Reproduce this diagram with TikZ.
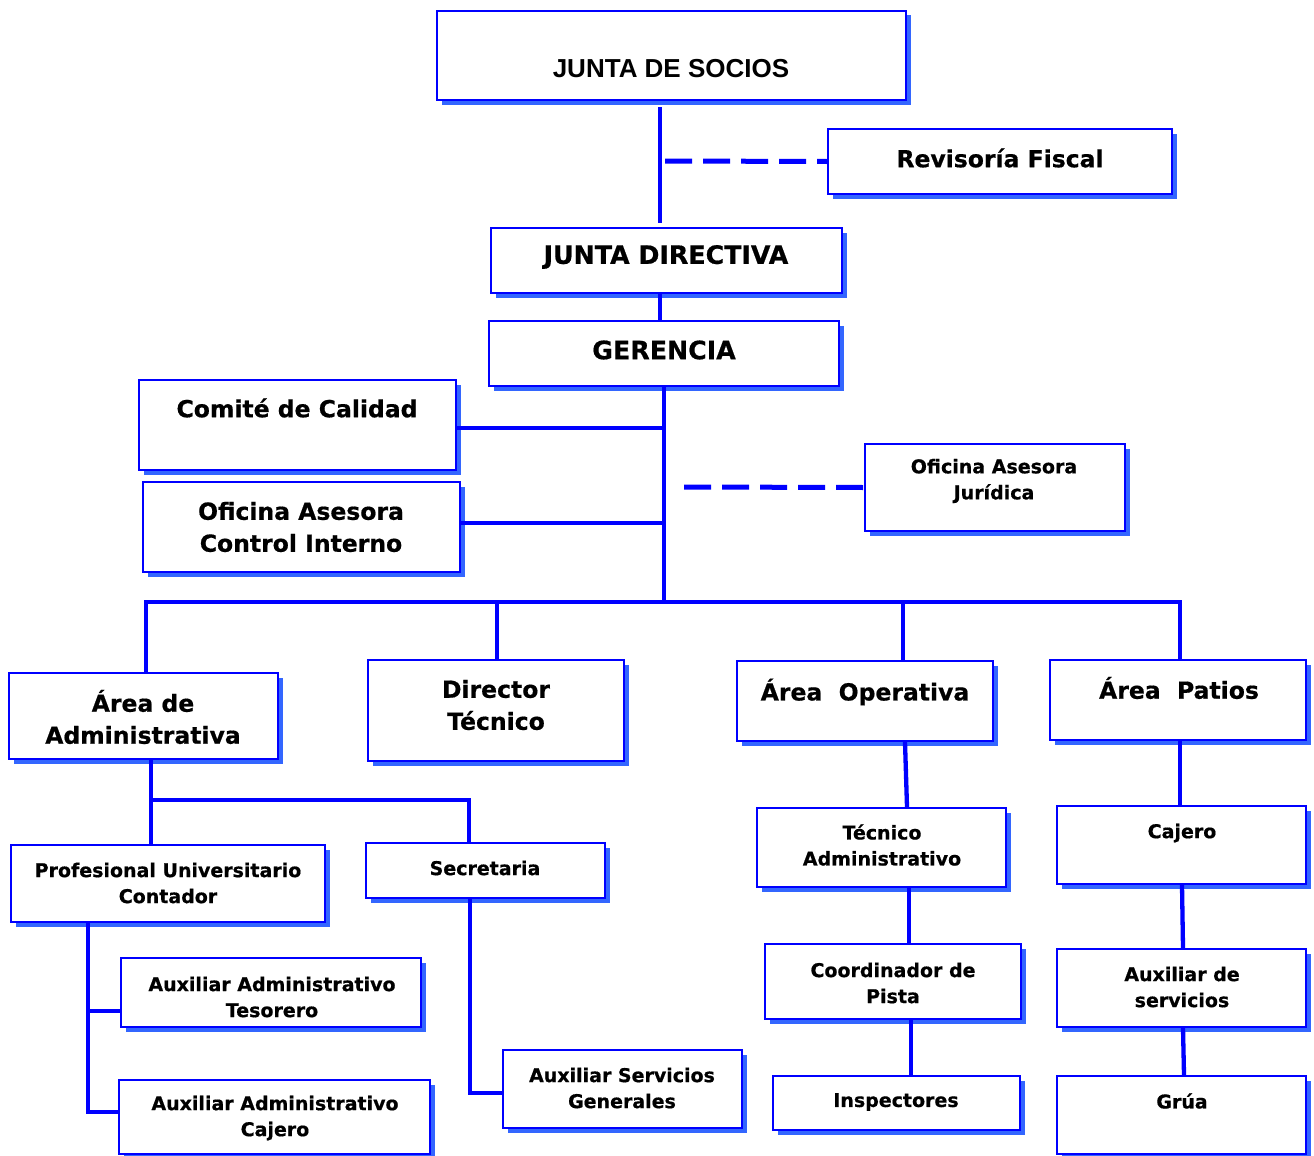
\documentclass[tikz,border=0pt]{standalone}
\usepackage{fontspec}
\setmainfont{DejaVu Sans}[BoldFeatures={FakeBold=0.6}]
\newfontfamily\arialfam{Liberation Sans}
\usetikzlibrary{shadows}
\definecolor{lineblue}{RGB}{0,0,255}
\definecolor{shadowblue}{RGB}{51,102,255}
\tikzset{
  orgbox/.style={draw=lineblue, line width=2pt, fill=white, rectangle, inner sep=0pt,
    general shadow={shadow xshift=4.5pt, shadow yshift=-4.5pt, fill=shadowblue}},
  bigtxt/.style={font=\bfseries\fontsize{23.5}{32}\selectfont, align=center, inner sep=0pt},
  captxt/.style={font=\bfseries\fontsize{25.3}{32}\selectfont, align=center, inner sep=0pt},
  smalltxt/.style={font=\bfseries\fontsize{19}{26}\selectfont, align=center, inner sep=0pt},
  conn/.style={draw=lineblue, line width=4.3pt},
  dashconn/.style={draw=lineblue, line width=5pt, dash pattern=on 27pt off 11pt}
}
\newcommand\obox[5]{% name, cx, cy, w, h
  \node[orgbox, minimum width=#4pt, minimum height=#5pt] (#1) at (#2,#3) {};}
\begin{document}
\begin{tikzpicture}[x=1pt,y=-1pt]
\fill[white] (0,0) rectangle (1314,1156);
\useasboundingbox (0,0) rectangle (1314,1156);

% boxes
\obox{js}{671.5}{55.5}{469}{89}
\obox{rf}{1000}{161.5}{344}{65}
\obox{jd}{666.5}{260.5}{351}{65}
\obox{ger}{664}{353.5}{350}{65}
\obox{cc}{297.5}{425}{317}{90}
\obox{oci}{301.5}{527}{317}{90}
\obox{oaj}{995}{487.5}{260}{87}
\obox{aa}{143.5}{716}{269}{86}
\obox{dt}{496}{710.5}{256}{101}
\obox{ao}{865}{701}{256}{80}
\obox{ap}{1178}{700}{256}{80}
\obox{pu}{168}{883.5}{314}{77}
\obox{sec}{485.5}{870.5}{239}{55}
\obox{ta}{881.5}{847.5}{249}{79}
\obox{caj}{1181.5}{845}{249}{78}
\obox{aat}{271}{992.5}{300}{69}
\obox{aac}{274.5}{1117}{311}{74}
\obox{asg}{622.5}{1089}{239}{78}
\obox{cp}{893}{981.5}{256}{75}
\obox{ads}{1181.5}{988}{249}{78}
\obox{ins}{896.5}{1103}{247}{54}
\obox{gru}{1181.5}{1115}{249}{78}

% texts
\node[inner sep=0pt, font=\arialfam\bfseries\fontsize{26}{30}\selectfont] (tjs) at (671,69) {JUNTA DE SOCIOS};
\node[bigtxt] (trf) at (1000,158) {Revisoría Fiscal};
\node[captxt] (tjd) at (666,257) {JUNTA DIRECTIVA};
\node[captxt] (tger) at (664,350) {GERENCIA};
\node[bigtxt] (tcc) at (297,408) {Comité de Calidad};
\node[bigtxt] (toci) at (301,527) {Oficina Asesora\\Control Interno};
\node[smalltxt] (toaj) at (994,481) {Oficina Asesora\\Jurídica};
\node[bigtxt] (taa) at (143,717) {Área de\\Administrativa};
\node[bigtxt] (tdt) at (496,705) {Director\\Técnico};
\node[bigtxt] (tao) at (865,692) {Área~~Operativa};
\node[bigtxt] (tap) at (1179,688) {Área~~Patios};
\node[smalltxt] (tpu) at (168,883) {Profesional Universitario\\Contador};
\node[smalltxt] (tsec) at (485,868) {Secretaria};
\node[smalltxt] (tta) at (882,845) {Técnico\\Administrativo};
\node[smalltxt] (tcaj) at (1182,833) {Cajero};
\node[smalltxt] (taat) at (272,997) {Auxiliar Administrativo\\Tesorero};
\node[smalltxt] (taac) at (275,1118) {Auxiliar Administrativo\\Cajero};
\node[smalltxt] (tasg) at (622,1088) {Auxiliar Servicios\\Generales};
\node[smalltxt] (tcp) at (893,983) {Coordinador de\\Pista};
\node[smalltxt] (tads) at (1182,987) {Auxiliar de\\servicios};
\node[smalltxt] (tins) at (896,1102) {Inspectores};
\node[smalltxt] (tgru) at (1182,1101) {Grúa};

% free coordinates
\coordinate (d1) at (665,161);
\coordinate (d2) at (684,487);
\coordinate (bus) at (664,602);
\coordinate (bl) at (146,602);
\coordinate (br) at (1180,602);
\coordinate (ab) at (151,800);
\coordinate (pb1) at (88,1011);
\coordinate (pb2) at (88,1112);
\coordinate (sb) at (470,1093);

% connectors
\draw[conn, shorten <=6pt, shorten >=4pt] (js.south -| 660,0) -- (jd.north -| 660,0);
\draw[dashconn] (d1) -- (rf.west);
\draw[conn] (jd.south -| 660,0) -- (ger.north -| 660,0);
\draw[conn] (ger.south -| bus) -- (bus);
\draw[conn] (cc.east |- 0,428) -- (bus |- 0,428);
\draw[conn] (oci.east |- 0,523) -- (bus |- 0,523);
\draw[dashconn] (d2) -- (oaj.west);
\draw[conn] (aa.north -| bl) -- (bl) -- (br) -- (ap.north -| br);
\draw[conn] (dt.north -| 497,0) -- (497,602);
\draw[conn] (ao.north -| 903,0) -- (903,602);
\draw[conn] (aa.south -| ab) -- (pu.north -| ab);
\draw[conn] (ab) -| (sec.north -| 469,0);
\draw[conn] (pu.south -| pb1) -- (pb2) -- (aac.west |- pb2);
\draw[conn] (pb1) -- (aat.west |- pb1);
\draw[conn] (sec.south -| sb) -- (sb) -- (asg.west |- sb);
\draw[conn] (ao.south -| 905,0) -- (ta.north -| 907,0);
\draw[conn] (ta.south -| 909,0) -- (cp.north -| 909,0);
\draw[conn] (cp.south -| 911,0) -- (ins.north -| 911,0);
\draw[conn] (ap.south -| br) -- (caj.north -| br);
\draw[conn] (caj.south -| 1182,0) -- (ads.north -| 1183,0);
\draw[conn] (ads.south -| 1183,0) -- (gru.north -| 1184,0);
\end{tikzpicture}
\end{document}
